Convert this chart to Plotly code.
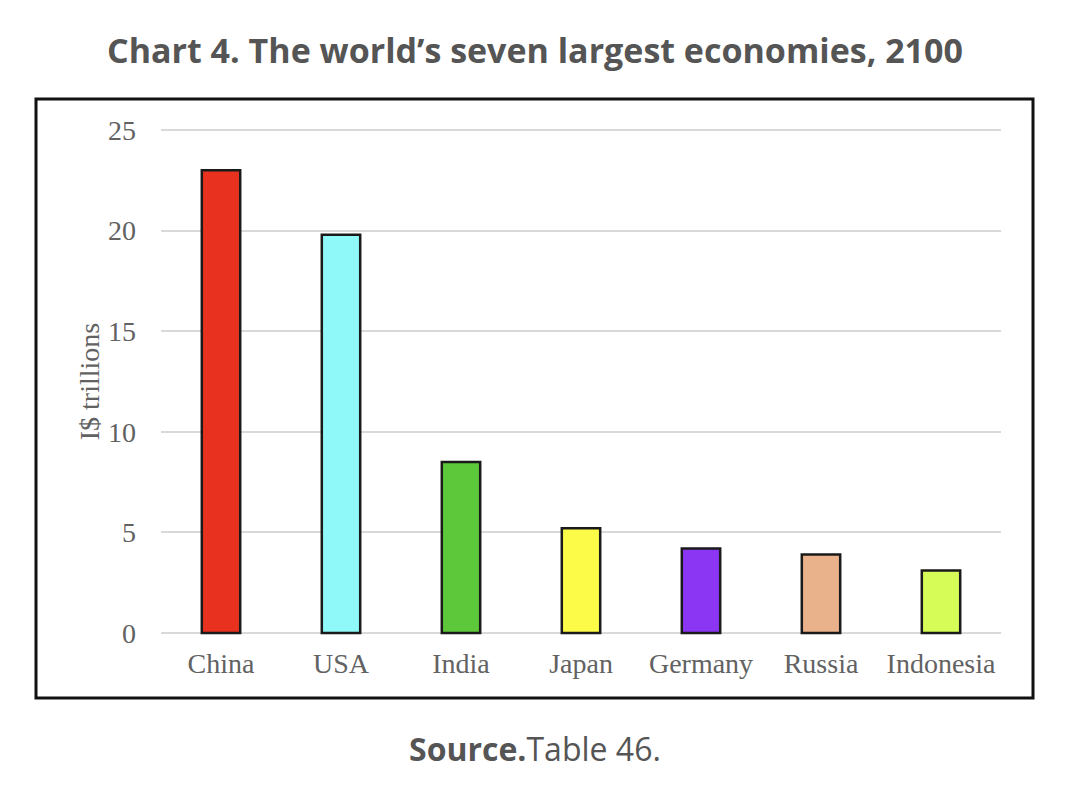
import plotly.graph_objects as go

countries = ['China', 'USA', 'India', 'Japan', 'Germany', 'Russia', 'Indonesia']
gdp_2100 = [23.0, 19.8, 8.5, 5.2, 4.2, 3.9, 3.1]
bar_colors = ['#e8321f', '#8ff9f9', '#5cc83a', '#fcfc48', '#8b36f2', '#e9b28a', '#d6fc58']
y_ticks = [0, 5, 10, 15, 20, 25]

# page body adds a small offset, so the margins are shifted back by it
off = 7
pad = 0.15          # a little room so the 0 and 25 gridlines get drawn
px_per_unit = 503 / 25
top = 129 - pad * px_per_unit
bottom = 632 + pad * px_per_unit
h = bottom - top


def py(p):
    # page pixel row -> paper y
    return (bottom - p) / h


trace = go.Bar(
    x=countries,
    y=gdp_2100,
    marker=dict(color=bar_colors, line=dict(color='#1a1a1a', width=2.5)),
    width=0.32,
)

fig = go.Figure(data=[trace])
fig.update_layout(
    width=1076,
    height=788,
    margin=dict(l=160 - off, r=76 + off, t=top - off, b=788 - bottom + off),
    paper_bgcolor='white',
    plot_bgcolor='white',
    showlegend=False,
    title=dict(
        text='<b>Chart 4. The world\u2019s seven largest economies, 2100</b>',
        x=(534 - off) / 1076, xanchor='center', y=1 - (50 - off) / 788, yanchor='middle',
        font=dict(family='Open Sans', size=34, color='#555555'),
    ),
    xaxis=dict(
        tickfont=dict(family='Liberation Serif', size=28, color='#626262'),
        showgrid=False, showline=False, ticks='', ticklabelstandoff=8,
    ),
    yaxis=dict(
        range=[-pad, 25 + pad], tickvals=y_ticks,
        tickfont=dict(family='Liberation Serif', size=28, color='#626262'),
        gridcolor='#d9d9d9', gridwidth=2, zeroline=False,
        ticklabelstandoff=24,
        title=dict(text='I$ trillions', standoff=0,
                   font=dict(family='Liberation Serif', size=28, color='#626262')),
    ),
)

# outer frame round the chart
fig.add_shape(type='rect', xref='paper', yref='paper',
              x0=(35 - 160) / 840, x1=(1032 - 160) / 840,
              y0=py(697), y1=py(98),
              line=dict(color='#111111', width=3), layer='below')

fig.add_annotation(
    text='<b>Source.</b>Table 46.', xref='paper', yref='paper',
    x=(534 - 160) / 840, y=py(748), showarrow=False,
    xanchor='center', yanchor='middle',
    font=dict(family='Open Sans', size=32, color='#555555'),
)

fig.write_html('out.html')
